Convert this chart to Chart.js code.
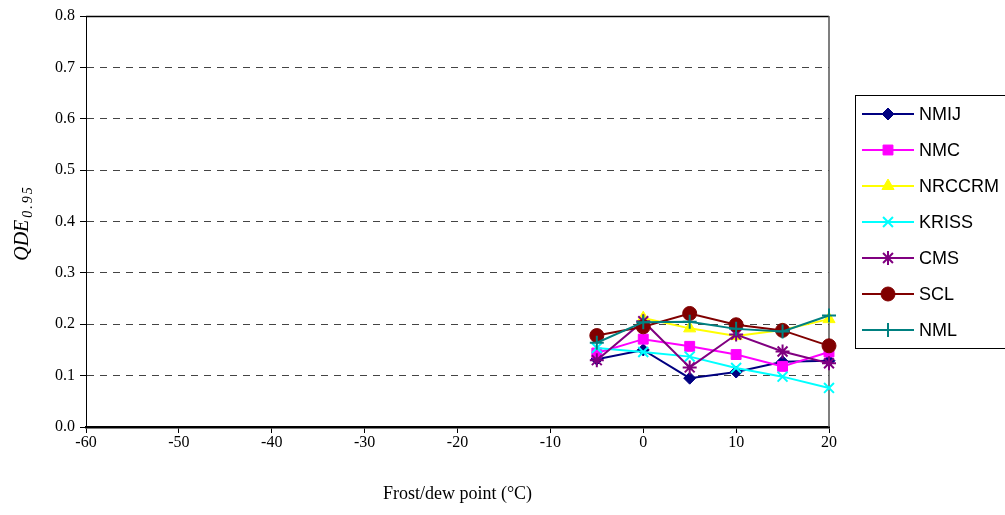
<!DOCTYPE html>
<html>
<head>
<meta charset="utf-8">
<script src="https://cdn.jsdelivr.net/npm/chart.js@4"></script>
<style>
  html, body { margin: 0; padding: 0; background: #fff; }
  #wrap { width: 1005px; height: 515px; position: relative; }
</style>
</head>
<body>
<div id="wrap"><canvas id="c" width="1005" height="515"></canvas></div>
<script>
// Frost/dew point nominal values (°C)
const dewPoints = [-5, 0, 5, 10, 15, 20];

// QDE 0.95 per laboratory
const nmij   = [0.132, 0.150, 0.095, 0.107, 0.127, 0.129];
const nmc    = [0.144, 0.171, 0.157, 0.141, 0.118, 0.146];
const nrccrm = [null, 0.212, 0.192, 0.177, 0.189, 0.210];
const kriss  = [0.154, 0.146, 0.137, 0.115, 0.098, 0.076];
const cms    = [0.130, 0.206, 0.116, 0.180, 0.147, 0.124];
const scl    = [0.178, 0.195, 0.221, 0.199, 0.188, 0.158];
const nml    = [0.164, 0.204, 0.205, 0.191, 0.186, 0.217];

const labNames = ['NMIJ', 'NMC', 'NRCCRM', 'KRISS', 'CMS', 'SCL', 'NML'];
const labValues = [nmij, nmc, nrccrm, kriss, cms, scl, nml];

const xTicks = [-60, -50, -40, -30, -20, -10, 0, 10, 20];
const yTicks = [0, 0.1, 0.2, 0.3, 0.4, 0.5, 0.6, 0.7, 0.8];

const styles = [
  { color: '#000080', point: 'rectRot',  radius: 6, fill: true },
  { color: '#FF00FF', point: 'rect',     radius: 7, fill: true },
  { color: '#FFFF00', point: 'triangle', radius: 7, fill: true },
  { color: '#00FFFF', point: 'crossRot', radius: 7, fill: false },
  { color: '#800080', point: 'star',     radius: 7, fill: false },
  { color: '#800000', point: 'circle',   radius: 7, fill: true },
  { color: '#008080', point: 'cross',    radius: 7, fill: false }
];

const datasets = labNames.map((name, i) => ({
  label: name,
  data: dewPoints.map((x, k) => ({ x: x, y: labValues[i][k] })),
  borderColor: styles[i].color,
  backgroundColor: styles[i].color,
  pointStyle: styles[i].point,
  pointRadius: styles[i].radius,
  pointBorderWidth: styles[i].fill ? 1 : 2,
  pointBackgroundColor: styles[i].color,
  pointBorderColor: styles[i].color,
  borderWidth: 2,
  tension: 0,
  spanGaps: false,
  clip: false,
  order: labNames.length - i
}));

// Frame around the plot area, the y-axis title with subscript, and the legend box
const decorations = {
  id: 'decorations',
  beforeDatasetsDraw(chart) {
    const { ctx, chartArea: a } = chart;
    ctx.save();
    // top and right frame lines
    ctx.lineWidth = 1.5;
    ctx.strokeStyle = '#000';
    ctx.beginPath();
    ctx.moveTo(a.left, a.top + 0.5);
    ctx.lineTo(a.right, a.top + 0.5);
    ctx.stroke();
    ctx.strokeStyle = '#555';
    ctx.beginPath();
    ctx.moveTo(a.right, a.top);
    ctx.lineTo(a.right, a.bottom);
    ctx.stroke();
    ctx.restore();
  },
  afterDraw(chart) {
    const { ctx } = chart;
    ctx.save();
    // y-axis title: QDE with subscript 0.95
    ctx.fillStyle = '#000';
    ctx.translate(28, 223);
    ctx.rotate(-Math.PI / 2);
    ctx.textBaseline = 'alphabetic';
    ctx.textAlign = 'left';
    const main = 'QDE';
    const sub = '0.95';
    const mainFont = 'italic 20px "Liberation Serif", "Times New Roman", serif';
    const subFont = 'italic 14px "Liberation Serif", "Times New Roman", serif';
    ctx.font = mainFont;
    const wMain = ctx.measureText(main).width;
    ctx.font = subFont;
    ctx.letterSpacing = '2px';
    const wSub = ctx.measureText(sub).width;
    const start = -(wMain + wSub + 2) / 2;
    ctx.letterSpacing = '0px';
    ctx.font = mainFont;
    ctx.fillText(main, start, 0);
    ctx.font = subFont;
    ctx.letterSpacing = '2px';
    ctx.fillText(sub, start + wMain + 2, 4);
    ctx.restore();

    // legend
    ctx.save();
    const lx = 855.5, ly = 95.5, lw = 150, lh = 253;
    ctx.strokeStyle = '#000';
    ctx.lineWidth = 1;
    ctx.strokeRect(lx, ly, lw, lh);
    ctx.textBaseline = 'middle';
    ctx.textAlign = 'left';
    chart.data.datasets.forEach((ds, i) => {
      const y = 114 + i * 36;
      ctx.strokeStyle = ds.borderColor;
      ctx.lineWidth = 2;
      ctx.beginPath();
      ctx.moveTo(862, y);
      ctx.lineTo(914, y);
      ctx.stroke();
      ctx.fillStyle = ds.pointBackgroundColor;
      ctx.strokeStyle = ds.pointBorderColor;
      ctx.lineWidth = ds.pointBorderWidth;
      Chart.helpers.drawPoint(ctx, {
        pointStyle: ds.pointStyle,
        radius: ds.pointRadius,
        borderWidth: ds.pointBorderWidth,
        rotation: 0
      }, 888, y);
      ctx.fillStyle = '#000';
      ctx.font = '18px "Liberation Sans", Arial, sans-serif';
      ctx.fillText(ds.label, 919, y + 1);
    });
    ctx.restore();
  }
};

new Chart(document.getElementById('c'), {
  type: 'line',
  data: { datasets },
  options: {
    responsive: false,
    animation: false,
    layout: { padding: { top: 16, right: 176, left: 0, bottom: 0 } },
    plugins: { legend: { display: false }, tooltip: { enabled: false } },
    scales: {
      x: {
        type: 'linear',
        min: -60, max: 20,
        afterBuildTicks(s) { s.ticks = xTicks.map(v => ({ value: v })); },
        afterFit(s) { s.height = 88; },
        grid: { drawOnChartArea: false, drawTicks: true, tickLength: 6, color: '#000', tickColor: '#000' },
        border: { color: '#000', width: 2.5 },
        ticks: {
          color: '#000',
          padding: 0,
          font: { family: '"Liberation Serif", "Times New Roman", serif', size: 16 },
          callback: v => String(v)
        },
        title: {
          display: true,
          text: 'Frost/dew point (°C)',
          color: '#000',
          font: { family: '"Liberation Serif", "Times New Roman", serif', size: 18 },
          padding: { top: 0, bottom: 10 }
        }
      },
      y: {
        type: 'linear',
        min: 0, max: 0.8,
        afterBuildTicks(s) { s.ticks = yTicks.map(v => ({ value: v })); },
        afterFit(s) { s.width = 86; },
        grid: {
          color: ctx => (ctx.tick && (ctx.tick.value === 0 || ctx.tick.value === 0.8)) ? 'rgba(0,0,0,0)' : '#444',
          tickColor: '#000',
          tickLength: 6,
          lineWidth: 1
        },
        border: { color: '#000', width: 1, dash: [7, 6] },
        ticks: {
          color: '#000',
          padding: 5,
          font: { family: '"Liberation Serif", "Times New Roman", serif', size: 16 },
          callback: v => Number(v).toFixed(1)
        }
      }
    }
  },
  plugins: [decorations]
});
</script>
</body>
</html>
